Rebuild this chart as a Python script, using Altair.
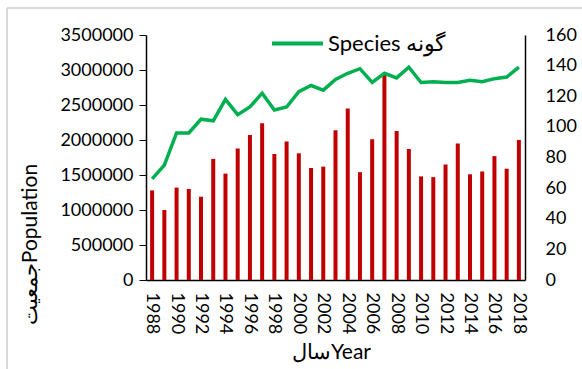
import altair as alt
import pandas as pd

# Yearly population (bars, left axis) and number of species (line, right axis)
years = list(range(1988, 2019))
population = [1280000, 1000000, 1320000, 1300000, 1190000, 1730000, 1520000,
              1880000, 2070000, 2240000, 1800000, 1980000, 1810000, 1600000,
              1620000, 2140000, 2450000, 1540000, 2010000, 2930000, 2130000,
              1870000, 1480000, 1470000, 1650000, 1950000, 1510000, 1550000,
              1770000, 1590000, 2000000]
species = [66, 75, 96, 96, 105, 104, 118, 108, 113, 122, 111, 113, 123, 127,
           124, 131, 135, 138, 129, 135, 132, 139, 129, 129.5, 129, 129, 130.5,
           129.5, 131.5, 132.5, 139]

series_name = "Species گونه"
df = pd.DataFrame({"Year": years, "Population": population,
                   "Species": species, "Series": series_name})

FONT = "Lato"
even_years = [y for y in years if y % 2 == 0]

x_enc = alt.X(
    "Year:O",
    axis=alt.Axis(
        title="سالYear", values=even_years, labelAngle=90, labelFontSize=18,
        labelFont=FONT, labelPadding=12, ticks=False, domainColor="black",
        domainWidth=1.5, titleFontSize=21, titleFont=FONT,
        titleFontWeight="normal", titleBaseline="alphabetic", titleY=78,
        titleX=185, titleColor="black", labelColor="black",
    ),
    scale=alt.Scale(paddingInner=0, paddingOuter=0),
)

bars = alt.Chart(df).mark_bar(color="#C00000", size=4).encode(
    x=x_enc,
    y=alt.Y(
        "Population:Q",
        scale=alt.Scale(domain=[0, 3500000], nice=False),
        axis=alt.Axis(
            title="جمعیتPopulation", values=list(range(0, 3500001, 500000)),
            format="d", grid=False, tickSize=7, tickColor="black",
            domainColor="black", domainWidth=1.5, labelFontSize=18,
            labelFont=FONT, labelPadding=6, labelColor="black",
            titleFontSize=21, titleFont=FONT, titleFontWeight="normal",
            titleColor="black", titleX=-106, titleY=209,
        ),
    ),
)

line = alt.Chart(df).mark_line(strokeWidth=3.5).encode(
    x=x_enc,
    y=alt.Y(
        "Species:Q",
        scale=alt.Scale(domain=[0, 160], nice=False),
        axis=alt.Axis(
            orient="right", title=None, values=list(range(0, 161, 20)),
            grid=False, ticks=False, domainColor="black", domainWidth=1.5,
            labelFontSize=18, labelFont=FONT, labelPadding=20,
            labelColor="black",
        ),
    ),
    color=alt.Color(
        "Series:N",
        scale=alt.Scale(domain=[series_name], range=["#00B050"]),
        legend=alt.Legend(
            title=None, orient="none", legendX=124, legendY=-19, padding=0,
            symbolType="stroke", symbolSize=2600, symbolStrokeWidth=4,
            labelFontSize=22, labelFont=FONT, labelColor="black",
            labelOffset=3, direction="horizontal",
        ),
    ),
)

# light frame line on the left and top edges
frame = pd.DataFrame({"k": [0]})
frame_left = alt.Chart(frame).mark_rule(color="#D9D9D9", strokeWidth=2).encode(
    x=alt.value(-139), y=alt.value(-27), y2=alt.value(334)
)
frame_top = alt.Chart(frame).mark_rule(color="#D9D9D9", strokeWidth=2).encode(
    x=alt.value(-139), x2=alt.value(436), y=alt.value(-27)
)

chart = (
    alt.layer(frame_left, frame_top, bars, line)
    .resolve_scale(y="independent")
    .properties(
        width=379, height=245,
        autosize=alt.AutoSizeParams(type="none"),
        padding={"left": 146, "top": 35, "right": 57, "bottom": 89},
        background="white",
    )
    .configure_view(stroke=None)
)

chart.save("out.html", embed_options={"renderer": "svg", "actions": False})
